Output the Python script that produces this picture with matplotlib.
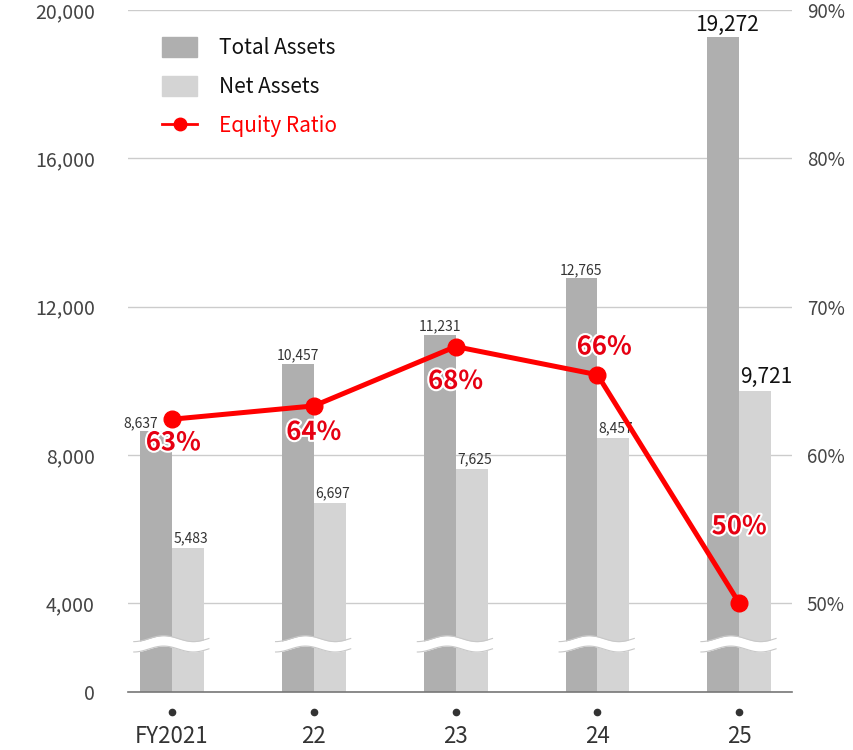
import numpy as np
import matplotlib
matplotlib.use("Agg")
import matplotlib.pyplot as plt
import matplotlib.patheffects as pe
from matplotlib.patches import Patch
from matplotlib.lines import Line2D
import matplotlib.transforms as mtransforms

plt.rcParams['font.family'] = ['Noto Sans CJK JP', 'DejaVu Sans']

years = ["FY2021", "22", "23", "24", "25"]
total_assets = [8637, 10457, 11231, 12765, 19272]
net_assets = [5483, 6697, 7625, 8457, 9721]
ratio_plot = [62.4, 63.3, 67.3, 65.4, 50.0]
ratio_labels = ["63%", "64%", "68%", "66%", "50%"]
left_ticks = [4000, 8000, 12000, 16000, 20000]
right_ticks = [50, 60, 70, 80, 90]

AXIS_BOTTOM = 1600      # value where the broken left axis shows "0"
RIGHT_BOTTOM = 44.0
BREAK_AT = 2900

TOTAL_C = "#afafaf"
NET_C = "#d4d4d4"
RED = "#ff0000"

fig = plt.figure(figsize=(8.54, 7.5), dpi=100)
ax = fig.add_axes([0.150, 0.0773, 0.777, 0.9093])
ax2 = ax.twinx()

x = np.arange(len(years))
w = 0.225

ax.bar(x - w / 2, np.array(total_assets) - AXIS_BOTTOM, w, bottom=AXIS_BOTTOM,
       color=TOTAL_C, zorder=2)
ax.bar(x + w / 2, np.array(net_assets) - AXIS_BOTTOM, w, bottom=AXIS_BOTTOM,
       color=NET_C, zorder=2)

# value labels
for i in range(len(years)):
    last = i == len(years) - 1
    fs = 15 if last else 10
    col = "#111111" if last else "#333333"
    dx = -11 if i == 0 else (3 if last else 0)
    ax.annotate(f"{total_assets[i]:,}", (x[i] - w / 2, total_assets[i]),
                xytext=(dx, 1), textcoords="offset points", ha="center",
                va="bottom", fontsize=fs, color=col, zorder=6)
    ax.annotate(f"{net_assets[i]:,}", (x[i] + w / 2, net_assets[i]),
                xytext=(8 if last else 2, 2), textcoords="offset points",
                ha="center", va="bottom", fontsize=fs, color=col, zorder=6)

# axis break waves
for xi in x:
    xs = np.linspace(xi - 0.27, xi + 0.26, 80)
    wave = -80 * np.cos((xs - xs[0]) / 0.42 * 2 * np.pi)
    top = BREAK_AT + 140 + wave
    bot = BREAK_AT - 140 + wave
    ax.fill_between(xs, bot, top, color="white", zorder=3, lw=0)
    ax.plot(xs, top, color="#c8c8c8", lw=0.8, zorder=4)
    ax.plot(xs, bot, color="#c8c8c8", lw=0.8, zorder=4)

ax.set_xlim(-0.31, 4.37)
ax.set_ylim(AXIS_BOTTOM, 20000)
ax.set_yticks([AXIS_BOTTOM] + left_ticks)
ax.set_yticklabels(["0"] + [f"{v:,}" for v in left_ticks])
ax.yaxis.grid(True, color="#cccccc", lw=1)
ax.set_axisbelow(True)
ax.tick_params(axis="y", length=0, pad=24, labelsize=14, labelcolor="#444444")
ax.set_xticks(x)
ax.set_xticklabels(years)
ax.tick_params(axis="x", length=0, pad=24, labelsize=16, labelcolor="#333333")
for s in ["top", "left", "right"]:
    ax.spines[s].set_visible(False)
ax.spines["bottom"].set_color("#777777")
ax.spines["bottom"].set_linewidth(1.2)

# dots under axis
trans = mtransforms.blended_transform_factory(ax.transData, ax.transAxes)
ax.plot(x, [-0.03] * len(x), "o", color="#333333", ms=4.5, transform=trans,
        clip_on=False)

# equity ratio line
ax2.plot(x, ratio_plot, color=RED, lw=3.6, marker="o", ms=12, zorder=5,
         solid_capstyle="round")
ax2.set_ylim(RIGHT_BOTTOM, 90)
ax2.set_yticks(right_ticks)
ax2.set_yticklabels([f"{v}%" for v in right_ticks])
ax2.tick_params(axis="y", length=0, pad=11, labelsize=13.5, labelcolor="#444444")
for s in ["top", "left", "right", "bottom"]:
    ax2.spines[s].set_visible(False)

offsets = [(1, -17), (0, -19), (0, -25), (5, 20), (0, 55)]
for i, lab in enumerate(ratio_labels):
    ax2.annotate(lab, (x[i], ratio_plot[i]), xytext=offsets[i],
                 textcoords="offset points", ha="center", va="center",
                 fontsize=18.5, fontweight="bold", color="#e60012", zorder=7,
                 path_effects=[pe.withStroke(linewidth=3, foreground="white")])

handles = [Patch(color=TOTAL_C), Patch(color=NET_C),
           Line2D([], [], color=RED, lw=2, marker="o", ms=9)]
leg = ax2.legend(handles, ["Total Assets", "Net Assets", "Equity Ratio"],
                 loc="upper left", bbox_to_anchor=(0.026, 0.985), frameon=False,
                 fontsize=15, handlelength=1.7, handleheight=1.1,
                 handletextpad=1.05, labelspacing=0.82, borderpad=0.3)
for t in leg.get_texts():
    t.set_color("#111111")
leg.get_texts()[2].set_color(RED)

fig.savefig("out.png", dpi=100)
